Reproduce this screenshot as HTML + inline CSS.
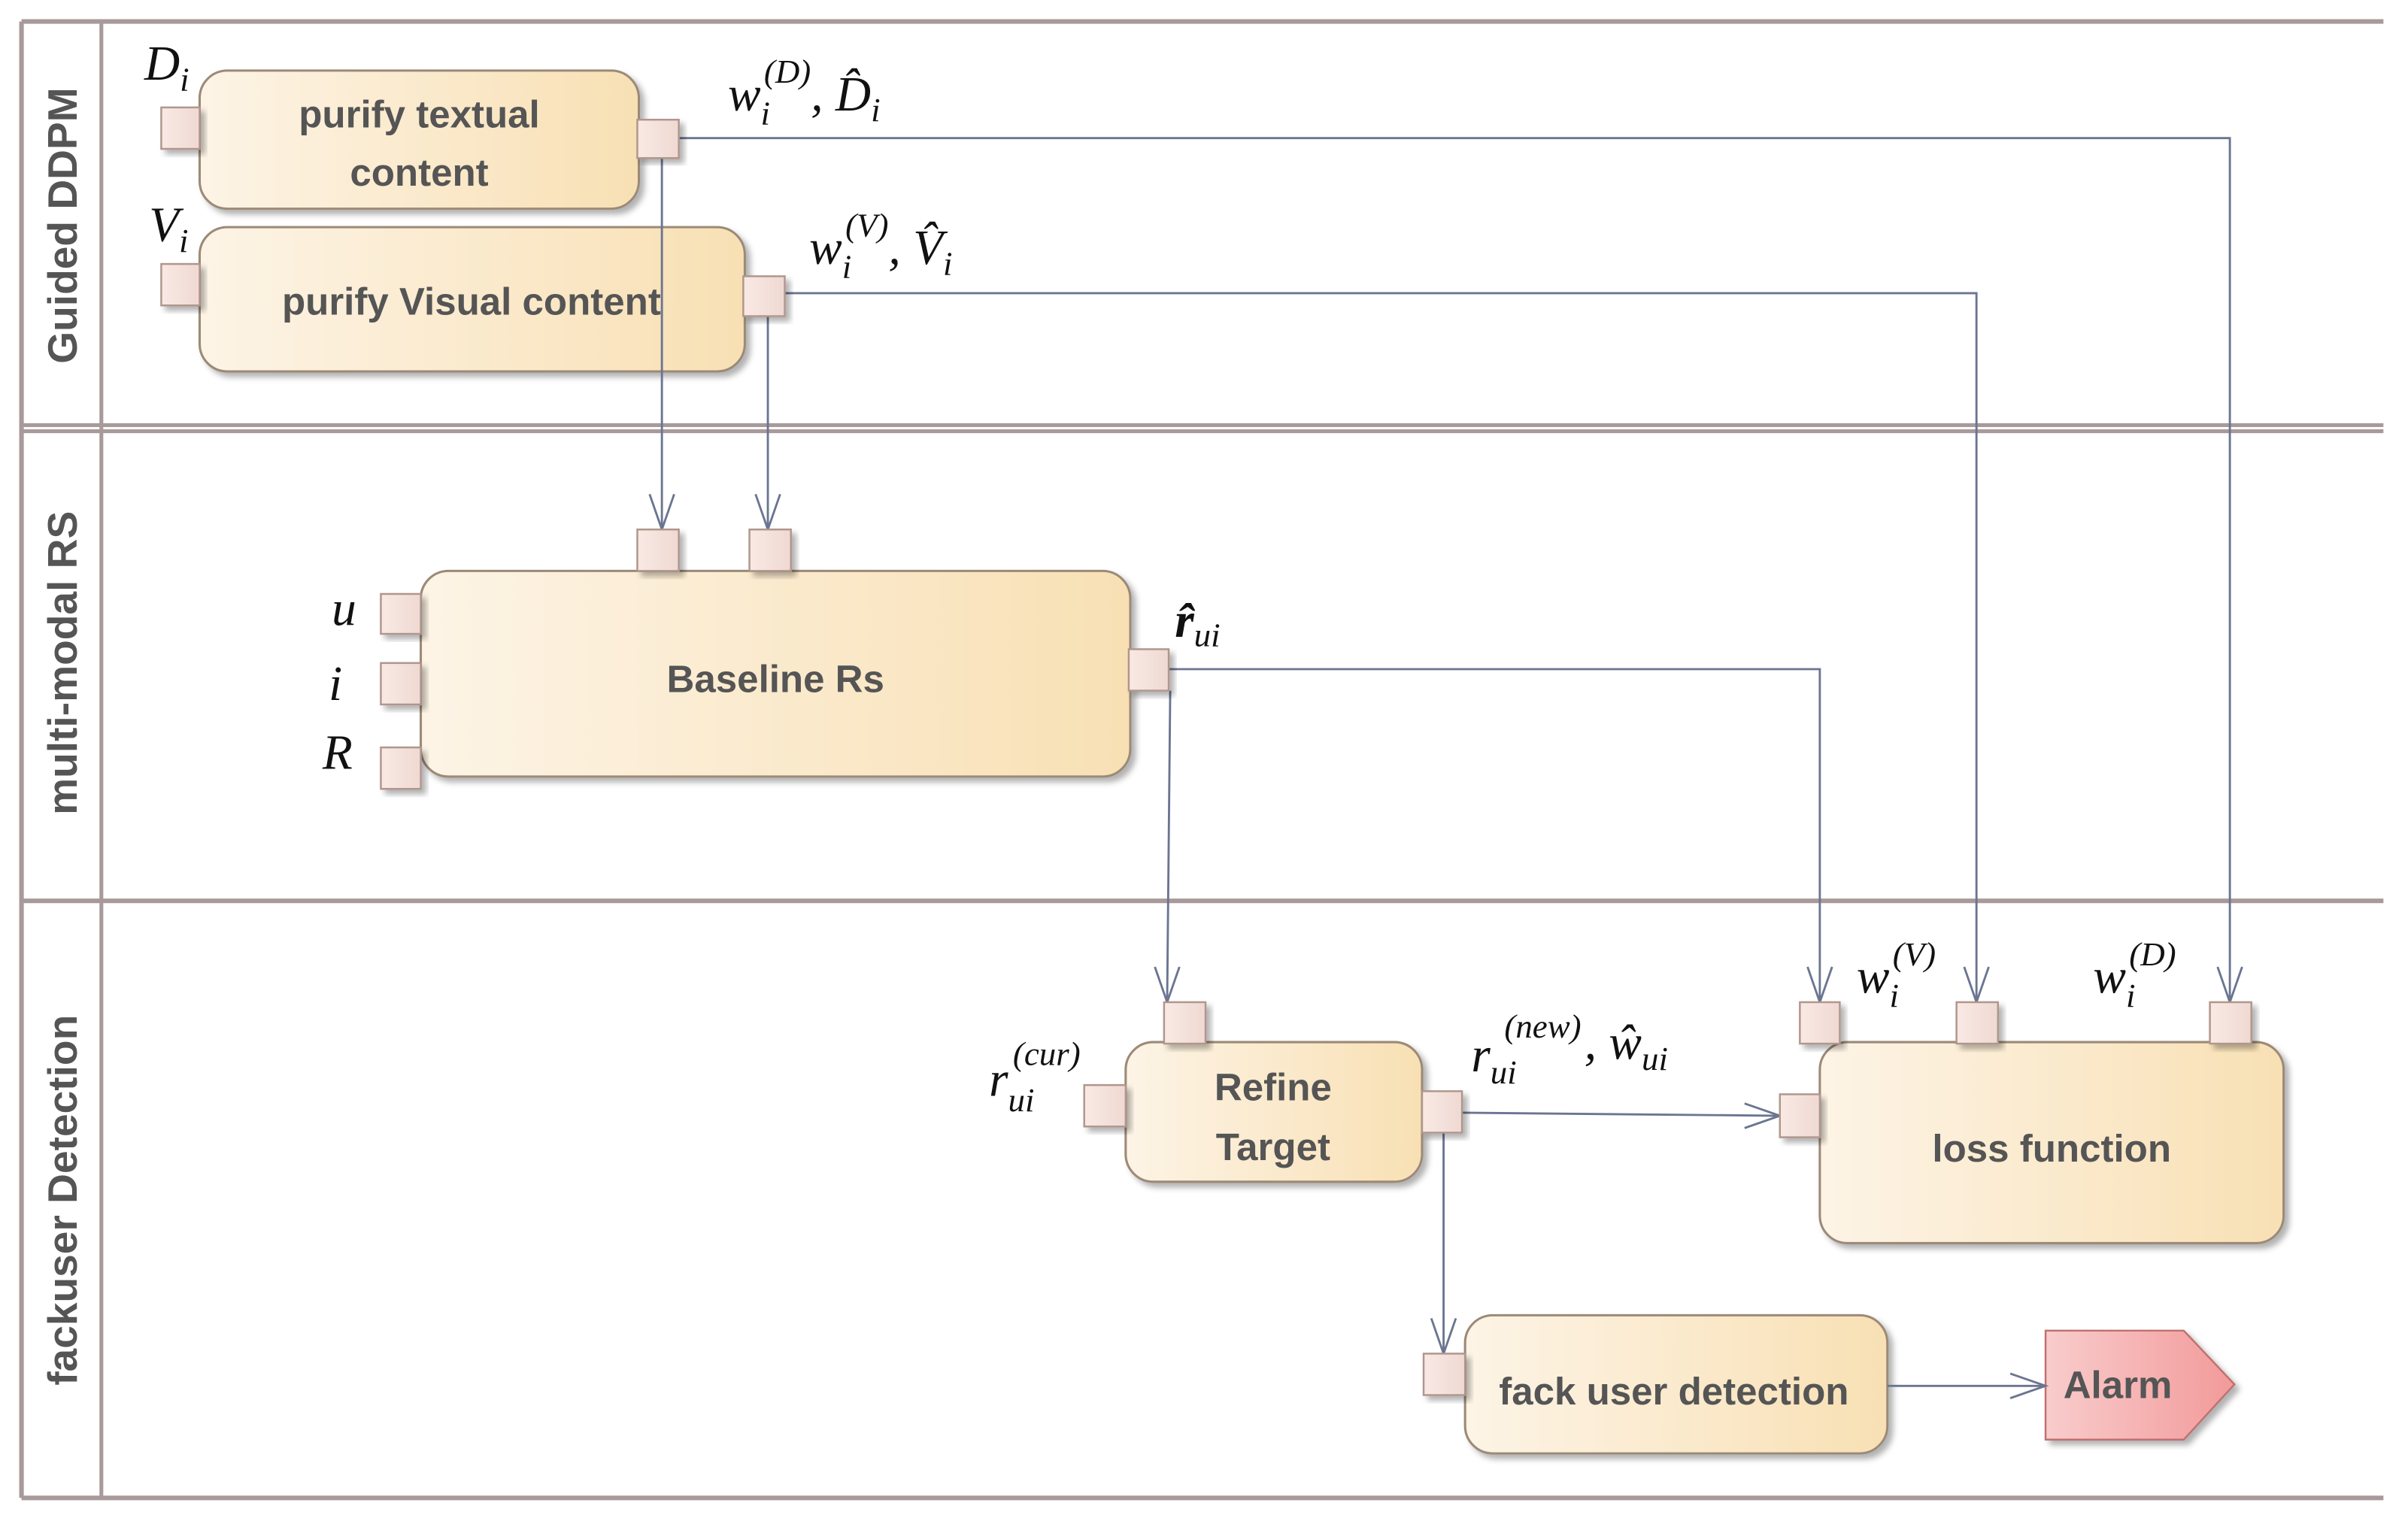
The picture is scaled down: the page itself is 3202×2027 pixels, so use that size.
<!DOCTYPE html>
<html><head><meta charset="utf-8"><style>html,body{margin:0;padding:0;background:#fff}svg{display:block}</style></head>
<body>
<svg width="3202" height="2027" viewBox="0 0 1568 993" preserveAspectRatio="none" xmlns="http://www.w3.org/2000/svg">
<defs>
<linearGradient id="g" x1="0" x2="1" y1="0" y2="0"><stop offset="0" stop-color="#fdf4e6"/><stop offset="1" stop-color="#f8e0b4"/></linearGradient>
<linearGradient id="pg" x1="0" x2="1"><stop offset="0" stop-color="#f9e9e4"/><stop offset="1" stop-color="#efd9d2"/></linearGradient>
<linearGradient id="ag" x1="0" x2="1"><stop offset="0" stop-color="#f9cccc"/><stop offset="1" stop-color="#f29a9a"/></linearGradient>
<filter id="sh" x="-10%" y="-10%" width="130%" height="130%"><feDropShadow dx="3" dy="3" stdDeviation="2" flood-color="#000" flood-opacity="0.3"/></filter>
</defs>
<style>
.b{fill:url(#g);stroke:#9c8a78;stroke-width:1.5;filter:url(#sh)}
.p{fill:url(#pg);stroke:#b0968c;stroke-width:1.2;filter:url(#sh)}
.l{fill:none;stroke:#6b7591;stroke-width:1.4}
.t{font-family:"Liberation Sans",sans-serif;font-weight:bold;font-size:25px;fill:#555;text-anchor:middle}
.m{font-family:"Liberation Serif",serif;font-style:italic;font-size:32px;fill:#111}
.s{font-size:22px}
.ln{font-family:"Liberation Sans",sans-serif;font-weight:bold;font-size:27px;fill:#555;text-anchor:middle}
</style>
<g stroke="#a89a9a" fill="none">
<line x1="14" y1="14" x2="1552" y2="14" stroke-width="3"/>
<line x1="14" y1="976" x2="1552" y2="976" stroke-width="3"/>
<line x1="14" y1="14" x2="14" y2="976" stroke-width="3"/>
<line x1="66" y1="14" x2="66" y2="976" stroke-width="2.5"/>
<line x1="14" y1="277" x2="1552" y2="277" stroke-width="2.5"/>
<line x1="14" y1="281" x2="1552" y2="281" stroke-width="2.5"/>
<line x1="14" y1="587" x2="1552" y2="587" stroke-width="3"/>
</g>
<text class="ln" transform="translate(50,147) rotate(-90)">Guided DDPM</text>
<text class="ln" transform="translate(50,432) rotate(-90)">multi-modal RS</text>
<text class="ln" transform="translate(50,782) rotate(-90)">fackuser Detection</text>

<rect class="b" x="130" y="46" width="286" height="90" rx="18"/>
<rect class="b" x="130" y="148" width="355" height="94" rx="18"/>
<rect class="b" x="274" y="372" width="462" height="134" rx="18"/>
<rect class="b" x="733" y="679" width="193" height="91" rx="18"/>
<rect class="b" x="1185" y="679" width="302" height="131" rx="18"/>
<rect class="b" x="954" y="857" width="275" height="90" rx="18"/>
<polygon points="1332,867 1422,867 1455,902 1422,938 1332,938" fill="url(#ag)" stroke="#c07070" stroke-width="1.2" filter="url(#sh)"/>

<text class="t" x="273" y="83">purify textual</text>
<text class="t" x="273" y="121">content</text>
<text class="t" x="307" y="205">purify Visual content</text>
<text class="t" x="505" y="451">Baseline Rs</text>
<text class="t" x="829" y="717">Refine</text>
<text class="t" x="829" y="756">Target</text>
<text class="t" x="1336" y="757">loss function</text>
<text class="t" x="1090" y="915">fack user detection</text>
<text class="t" x="1379" y="911">Alarm</text>

<polyline class="l" points="442,90 1452,90 1452,653"/>
<polyline class="l" points="431,103 431,345"/>
<polyline class="l" points="511,191 1287,191 1287,653"/>
<polyline class="l" points="500,206 500,345"/>
<polyline class="l" points="761,436 1185,436 1185,653"/>
<polyline class="l" points="762,450 760,653"/>
<polyline class="l" points="952,725 1159,727"/>
<polyline class="l" points="940,738 940,882"/>
<polyline class="l" points="1229,903 1332,903"/>
<g class="l">
<polyline points="423,322 431,345 439,322"/>
<polyline points="492,322 500,345 508,322"/>
<polyline points="1444,630 1452,653 1460,630"/>
<polyline points="1279,630 1287,653 1295,630"/>
<polyline points="1177,630 1185,653 1193,630"/>
<polyline points="752,630 760,653 768,630"/>
<polyline points="1136,719 1159,727 1136,735"/>
<polyline points="932,859 940,882 948,859"/>
<polyline points="1309,895 1332,903 1309,911"/>
</g>

<rect class="p" x="105" y="70" width="25" height="27"/>
<rect class="p" x="415" y="78" width="27" height="25"/>
<rect class="p" x="105" y="172" width="25" height="27"/>
<rect class="p" x="484" y="180" width="27" height="26"/>
<rect class="p" x="415" y="345" width="27" height="27"/>
<rect class="p" x="488" y="345" width="27" height="27"/>
<rect class="p" x="248" y="387" width="26" height="26"/>
<rect class="p" x="248" y="432" width="26" height="27"/>
<rect class="p" x="248" y="487" width="26" height="27"/>
<rect class="p" x="735" y="423" width="26" height="27"/>
<rect class="p" x="758" y="653" width="27" height="27"/>
<rect class="p" x="706" y="707" width="27" height="27"/>
<rect class="p" x="926" y="711" width="26" height="27"/>
<rect class="p" x="1172" y="653" width="26" height="27"/>
<rect class="p" x="1274" y="653" width="27" height="27"/>
<rect class="p" x="1439" y="653" width="27" height="27"/>
<rect class="p" x="1159" y="713" width="26" height="28"/>
<rect class="p" x="927" y="882" width="27" height="27"/>

<text class="m" x="94" y="52">D<tspan class="s" dy="7">i</tspan></text>
<text class="m" x="97" y="157">V<tspan class="s" dy="7">i</tspan></text>
<text class="m" x="474" y="72">w<tspan class="s" dy="9">i</tspan><tspan class="s" dx="-4" dy="-27">(D)</tspan><tspan dy="18">, D̂</tspan><tspan class="s" dy="7">i</tspan></text>
<text class="m" x="527" y="172">w<tspan class="s" dy="9">i</tspan><tspan class="s" dx="-4" dy="-27">(V)</tspan><tspan dy="18">, V̂</tspan><tspan class="s" dy="7">i</tspan></text>
<text class="m" x="216" y="407">u</text>
<text class="m" x="214" y="456">i</text>
<text class="m" x="210" y="501">R</text>
<text class="m" x="765" y="415" style="font-weight:bold">r̂<tspan class="s" dy="6" style="font-weight:normal">ui</tspan></text>
<text class="m" x="644" y="714">r<tspan class="s" dy="10">ui</tspan><tspan class="s" dx="-14" dy="-30">(cur)</tspan></text>
<text class="m" x="958" y="698">r<tspan class="s" dy="8">ui</tspan><tspan class="s" dx="-8" dy="-30">(new)</tspan><tspan dy="14" dx="2">, ŵ</tspan><tspan class="s" dy="7">ui</tspan></text>
<text class="m" x="1209" y="647">w<tspan class="s" dy="9">i</tspan><tspan class="s" dx="-4" dy="-27">(V)</tspan></text>
<text class="m" x="1363" y="647">w<tspan class="s" dy="9">i</tspan><tspan class="s" dx="-4" dy="-27">(D)</tspan></text>
</svg>
</body></html>
